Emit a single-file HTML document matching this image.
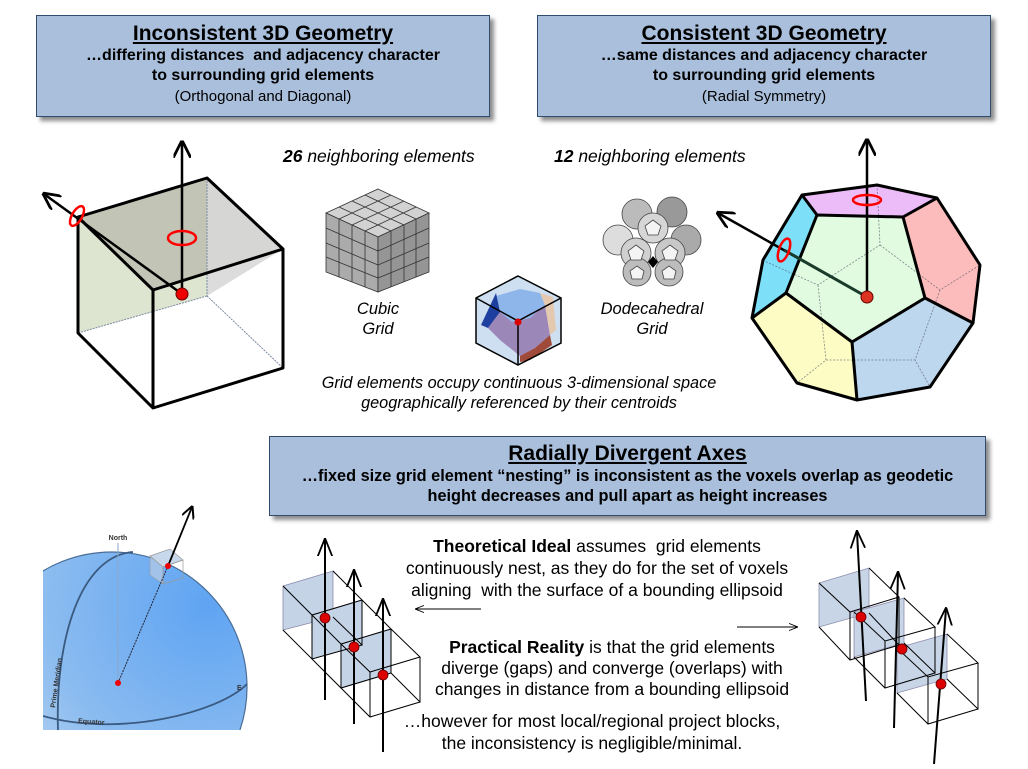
<!DOCTYPE html>
<html><head><meta charset="utf-8"><style>
html,body{margin:0;padding:0;background:#fff;}
body{width:1028px;height:769px;position:relative;overflow:hidden;font-family:"Liberation Sans",Arial,sans-serif;}
.box{position:absolute;background:#a9bfdc;border:1px solid #2f4b6e;box-shadow:4px 4px 4px rgba(0,0,0,0.45);text-align:center;color:#000;}
.t{position:absolute;white-space:nowrap;text-align:center;}
svg{position:absolute;left:0;top:0;}
</style></head><body>
<svg width="1028" height="769" viewBox="0 0 1028 769">
<defs>
<marker id="ah" viewBox="0 0 10 10" refX="9" refY="5" markerWidth="7" markerHeight="7" orient="auto"><path d="M0,0 L10,5 L0,10" fill="none" stroke="#000" stroke-width="1.6"/></marker>
<marker id="ahs" viewBox="0 0 10 10" refX="9" refY="5" markerWidth="9" markerHeight="9" orient="auto"><path d="M0,1 L10,5 L0,9" fill="none" stroke="#000" stroke-width="1"/></marker>
<radialGradient id="gb" cx="0.85" cy="0.2" r="1"><stop offset="0" stop-color="#5fa4f2"/><stop offset="0.6" stop-color="#8cbcf0"/><stop offset="1" stop-color="#c8dcf2"/></radialGradient>
<clipPath id="gc"><rect x="43" y="500" width="230" height="230"/></clipPath>
</defs>

<!-- Left cube -->
<polygon points="78,217 207,178 207,296 78,333" fill="#dde4cf"/>
<polygon points="78,217 207,178 283,249 153,290" fill="#c2c4b6"/>
<polygon points="207,178 283,249 207,296" fill="#d8d8d8" opacity="0.9"/>
<line x1="207" y1="178" x2="207" y2="296" stroke="#7a8aa0" stroke-width="1" stroke-dasharray="2,1"/>
<line x1="207" y1="296" x2="78" y2="333" stroke="#7a8aa0" stroke-width="1" stroke-dasharray="2,1"/>
<line x1="207" y1="296" x2="283" y2="368" stroke="#7a8aa0" stroke-width="1" stroke-dasharray="2,1"/>
<g fill="none" stroke="#000" stroke-width="3" stroke-linejoin="round">
<polygon points="78,217 207,178 283,249 153,290"/>
<polyline points="78,217 78,333 153,408 283,368 283,249"/>
<line x1="153" y1="290" x2="153" y2="408"/>
</g>
<line x1="182" y1="294" x2="182" y2="142" stroke="#000" stroke-width="2.5" marker-end="url(#ah)"/>
<line x1="182" y1="294" x2="44" y2="194" stroke="#000" stroke-width="2.5" marker-end="url(#ah)"/>
<ellipse cx="182" cy="238" rx="14" ry="7" fill="none" stroke="#f00" stroke-width="2.5"/>
<ellipse cx="77" cy="216" rx="5" ry="11" transform="rotate(30 77 216)" fill="none" stroke="#f00" stroke-width="2.5"/>
<circle cx="182" cy="294" r="6" fill="#e00" stroke="#600" stroke-width="1"/>

<!-- Dodecahedron -->
<polygon points="802,195 877,185 937,198 903,217 817,215" fill="#ebbcf7"/>
<polygon points="817,215 903,217 925,298 852,342 786,293" fill="#e0fbdf"/>
<polygon points="802,195 817,215 786,293 752,318 763,260" fill="#7ddff8"/>
<polygon points="937,198 903,217 925,298 973,323 980,265" fill="#fdbcbc"/>
<polygon points="752,318 786,293 852,342 857,400 797,383" fill="#fdfcc4"/>
<polygon points="852,342 925,298 973,323 930,387 857,400" fill="#bdd7ee"/>
<g fill="none" stroke="#556" stroke-width="0.8" stroke-dasharray="2,1.5" opacity="0.7">
<polyline points="877,185 880,245 818,285 762,260"/><polyline points="880,245 940,290 980,265"/><polyline points="940,290 915,360 930,387"/><polyline points="818,285 826,360 797,383"/><polyline points="826,360 915,360"/>
</g>
<g fill="none" stroke="#000" stroke-width="3" stroke-linejoin="round">
<polygon points="802,195 877,185 937,198 980,265 973,323 930,387 857,400 797,383 752,318 763,260"/>
<polygon points="817,215 903,217 925,298 852,342 786,293"/>
<line x1="802" y1="195" x2="817" y2="215"/><line x1="937" y1="198" x2="903" y2="217"/><line x1="925" y1="298" x2="973" y2="323"/><line x1="852" y1="342" x2="857" y2="400"/><line x1="786" y1="293" x2="752" y2="318"/>
</g>
<line x1="867" y1="297" x2="867" y2="140" stroke="#000" stroke-width="2.5" marker-end="url(#ah)"/>
<line x1="867" y1="297" x2="718" y2="213" stroke="#000" stroke-width="2.5" marker-end="url(#ah)"/>
<line x1="867" y1="297" x2="784" y2="250" stroke="#1a3a2a" stroke-width="3"/>
<ellipse cx="867" cy="200" rx="14" ry="5" fill="none" stroke="#f00" stroke-width="2.5"/>
<ellipse cx="784" cy="250" rx="5" ry="12" transform="rotate(20 784 250)" fill="none" stroke="#f00" stroke-width="2.5"/>
<circle cx="867" cy="297" r="6" fill="#d32" stroke="#600" stroke-width="1"/>

<!-- Cubic grid -->
<g stroke="#333" stroke-width="0.8">
<polygon points="378,189 429,213 378,237 326,213" fill="#d2d2d2"/>
<polygon points="326,213 378,237 378,292 326,272" fill="#ababab"/>
<polygon points="378,237 429,213 429,272 378,292" fill="#959595"/>
<g fill="none">
<path d="M339,207 L391,231 M352,201 L404,225 M365,195 L416,219 M391,195 L339,219 M404,201 L352,225 M416,207 L365,231"/>
<path d="M339,219 L339,277 M352,225 L352,282 M365,231 L365,287 M326,228 L378,251 M326,243 L378,265 M326,257 L378,278"/>
<path d="M391,231 L391,287 M404,225 L404,282 M416,219 L416,277 M378,251 L429,228 M378,265 L429,243 M378,278 L429,257"/>
</g></g>

<!-- Dodecahedral cluster -->
<g stroke="#444" stroke-width="0.8">
<circle cx="637" cy="214" r="15" fill="#bbb"/><circle cx="672" cy="212" r="15" fill="#999"/>
<circle cx="618" cy="240" r="15" fill="#ddd"/><circle cx="686" cy="240" r="15" fill="#aaa"/>
<circle cx="653" cy="228" r="15" fill="#d6d6d6"/>
<circle cx="636" cy="253" r="15" fill="#d0d0d0"/><circle cx="670" cy="253" r="15" fill="#c8c8c8"/>
<circle cx="637" cy="272" r="14" fill="#bcbcbc"/><circle cx="669" cy="272" r="14" fill="#bcbcbc"/>
<g fill="#f4f4f4"><polygon points="653,220 661,226 658,235 648,235 645,226"/><polygon points="636,245 644,251 641,260 631,260 628,251"/><polygon points="670,245 678,251 675,260 665,260 662,251"/><polygon points="637,266 644,271 642,279 632,279 630,271"/><polygon points="669,266 676,271 674,279 664,279 662,271"/></g>
</g>
<polygon points="653,256 658,262 653,268 648,262" fill="#000"/>

<!-- middle small -->
<polygon points="518,276 561,298 561,343 518,365 476,343 476,298" fill="#cddff0"/>
<polygon points="496,296 520,289 540,293 545,305 530,318 512,322 500,312" fill="#8eb6ea"/>
<polygon points="500,312 512,322 530,318 545,305 550,335 535,348 520,356 500,340 488,328" fill="#9b87b8"/>
<polygon points="496,293 500,312 488,328 481,325" fill="#1f3fa0"/>
<polygon points="545,305 540,293 553,297 556,330 550,335" fill="#e5c8b0"/>
<polygon points="520,356 535,348 550,335 552,345 530,360 520,362" fill="#a04a3a"/>
<g fill="none" stroke="#000" stroke-width="1.5"><polygon points="518,276 561,298 561,343 518,365 476,343 476,298"/><polyline points="476,298 518,321 561,298"/><line x1="518" y1="321" x2="518" y2="365"/></g>
<circle cx="518" cy="322" r="3.5" fill="#d00"/>

<!-- Globe -->
<g clip-path="url(#gc)">
<circle cx="112" cy="687" r="135" fill="url(#gb)" stroke="#4a6e98" stroke-width="1.2"/>
<path d="M58,730 C55,640 80,556 133,552" fill="none" stroke="#3a5a80" stroke-width="1.8"/>
<path d="M43,716 C120,738 220,712 247,684" fill="none" stroke="#3a5a80" stroke-width="1.8"/>
</g>
<line x1="118" y1="543" x2="118" y2="683" stroke="#8aa8cc" stroke-width="1"/>
<text x="118" y="540" font-size="7" font-weight="bold" text-anchor="middle" fill="#333">North</text>
<text x="237" y="690" font-size="7" font-weight="bold" fill="#333">E</text>
<text x="78" y="723" font-size="7" font-weight="bold" fill="#333" transform="rotate(4 78 723)">Equator</text>
<text x="55" y="708" font-size="7" font-weight="bold" fill="#333" transform="rotate(-82 55 708)">Prime Meridian</text>
<polygon points="150,556 170,549 183,560 163,567" fill="#c8d8ec" stroke="#999" stroke-width="0.7"/>
<polygon points="150,556 163,567 163,584 150,575" fill="#b0c8e8" stroke="#999" stroke-width="0.7" opacity="0.8"/>
<polygon points="163,567 183,560 183,578 163,584" fill="none" stroke="#999" stroke-width="0.7"/>
<line x1="118" y1="683" x2="168" y2="566" stroke="#223" stroke-width="1" stroke-dasharray="2,1"/>
<line x1="168" y1="566" x2="192" y2="507" stroke="#000" stroke-width="1.8" marker-end="url(#ah)"/>
<circle cx="118" cy="683" r="3" fill="#e00"/><circle cx="168" cy="566" r="3" fill="#e00"/>

<!-- Left cube chain -->
<g fill="#c5d3e6" stroke="#88a" stroke-width="0.8">
<polygon points="283,586 333,571 333,617 283,630"/>
<polygon points="312,615 362,600 362,645 312,659"/>
<polygon points="341,644 391,629 391,673 341,688"/>
</g>
<g fill="none" stroke="#000" stroke-width="1">
<polyline points="283,586 312,615 362,600 333,571"/><polyline points="283,630 312,659 362,645 333,617"/><line x1="312" y1="615" x2="312" y2="659"/><line x1="362" y1="600" x2="362" y2="645"/>
<polyline points="312,615 341,644 391,629 362,600"/><polyline points="312,659 341,688 391,673"/><line x1="341" y1="644" x2="341" y2="688"/><line x1="391" y1="629" x2="391" y2="673"/>
<polyline points="341,644 370,672 420,657 391,629"/><polyline points="341,688 370,717 420,702 391,673"/><line x1="370" y1="672" x2="370" y2="717"/><line x1="420" y1="657" x2="420" y2="702"/>
</g>
<g stroke="#000" stroke-width="2" marker-end="url(#ahs)">
<line x1="325" y1="700" x2="325" y2="540"/><line x1="354" y1="724" x2="354" y2="571"/><line x1="383" y1="752" x2="383" y2="600"/>
</g>
<circle cx="325" cy="618" r="5" fill="#d00" stroke="#600" stroke-width="0.8"/>
<circle cx="354" cy="647" r="5" fill="#d00" stroke="#600" stroke-width="0.8"/>
<circle cx="383" cy="675" r="5" fill="#d00" stroke="#600" stroke-width="0.8"/>

<!-- Right cube chain -->
<g fill="#c5d3e6" stroke="#88a" stroke-width="0.8" opacity="0.95">
<polygon points="819,583 869,568 869,613 819,627"/>
<polygon points="854,612 904,598 904,643 854,657"/>
<polygon points="897,648 947,634 947,679 897,693"/>
</g>
<g fill="none" stroke="#000" stroke-width="1">
<polyline points="819,583 850,612 899,597 869,568"/><polyline points="819,627 850,660 899,645 869,613"/><line x1="850" y1="612" x2="850" y2="660"/><line x1="899" y1="597" x2="899" y2="645"/>
<polyline points="854,612 885,641 935,627 904,598"/><polyline points="854,657 885,688 935,673 904,643"/><line x1="885" y1="641" x2="885" y2="688"/><line x1="935" y1="627" x2="935" y2="673"/>
<polyline points="897,648 928,677 978,663 947,634"/><polyline points="897,693 928,724 978,709 947,679"/><line x1="928" y1="677" x2="928" y2="724"/><line x1="978" y1="663" x2="978" y2="709"/>
</g>
<g stroke="#000" stroke-width="2" marker-end="url(#ahs)">
<line x1="866" y1="701" x2="857" y2="532"/><line x1="894" y1="728" x2="898" y2="573"/><line x1="934" y1="764" x2="946" y2="609"/>
</g>
<circle cx="861" cy="617" r="5" fill="#d00" stroke="#600" stroke-width="0.8"/>
<circle cx="902" cy="649" r="5" fill="#d00" stroke="#600" stroke-width="0.8"/>
<circle cx="941" cy="684" r="5" fill="#d00" stroke="#600" stroke-width="0.8"/>

<!-- thin arrows -->
<line x1="481" y1="609" x2="416" y2="609" stroke="#000" stroke-width="1" marker-end="url(#ahs)"/>
<line x1="737" y1="627" x2="797" y2="627" stroke="#000" stroke-width="1" marker-end="url(#ahs)"/>
</svg>

<div class="box" style="left:36px;top:15px;width:452px;height:100px;">
<div style="font-size:21px;font-weight:bold;text-decoration:underline;margin-top:6px;line-height:24px;">Inconsistent 3D Geometry</div>
<div style="font-size:16px;font-weight:bold;line-height:20px;">…differing distances&nbsp; and adjacency character<br>to surrounding grid elements</div>
<div style="font-size:15px;line-height:22px;">(Orthogonal and Diagonal)</div>
</div>
<div class="box" style="left:537px;top:15px;width:452px;height:100px;">
<div style="font-size:21px;font-weight:bold;text-decoration:underline;margin-top:6px;line-height:24px;">Consistent 3D Geometry</div>
<div style="font-size:16px;font-weight:bold;line-height:20px;">…same distances and adjacency character<br>to surrounding grid elements</div>
<div style="font-size:15px;line-height:22px;">(Radial Symmetry)</div>
</div>
<div class="box" style="left:269px;top:436px;width:715px;height:78px;">
<div style="font-size:21px;font-weight:bold;text-decoration:underline;margin-top:5px;line-height:24px;">Radially Divergent Axes</div>
<div style="font-size:16.3px;font-weight:bold;line-height:20px;">…fixed size grid element “nesting” is inconsistent as the voxels overlap as geodetic<br>height decreases and pull apart as height increases</div>
</div>

<div class="t" style="left:283px;top:146px;font-size:17.5px;font-weight:bold;font-style:italic;">26 <span style="font-weight:normal">neighboring elements</span></div>
<div class="t" style="left:554px;top:146px;font-size:17.5px;font-weight:bold;font-style:italic;">12 <span style="font-weight:normal">neighboring elements</span></div>
<div class="t" style="left:333px;top:299px;width:90px;font-size:16.5px;font-style:italic;line-height:20px;">Cubic<br>Grid</div>
<div class="t" style="left:587px;top:299px;width:130px;font-size:16.5px;font-style:italic;line-height:20px;">Dodecahedral<br>Grid</div>
<div class="t" style="left:269px;top:373px;width:500px;font-size:16.3px;font-style:italic;line-height:20px;">Grid elements occupy continuous 3-dimensional space<br>geographically referenced by their centroids</div>
<div class="t" style="left:367px;top:535px;width:460px;font-size:17.5px;line-height:22px;"><b>Theoretical Ideal</b> assumes&nbsp; grid elements<br>continuously nest, as they do for the set of voxels<br>aligning&nbsp; with the surface of a bounding ellipsoid</div>
<div class="t" style="left:382px;top:637px;width:460px;font-size:17.5px;line-height:21px;"><b>Practical Reality</b> is that the grid elements<br>diverge (gaps) and converge (overlaps) with<br>changes in distance from a bounding ellipsoid</div>
<div class="t" style="left:362px;top:710px;width:460px;font-size:17.5px;line-height:22px;">…however for most local/regional project blocks,<br>the inconsistency is negligible/minimal.</div>
</body></html>
